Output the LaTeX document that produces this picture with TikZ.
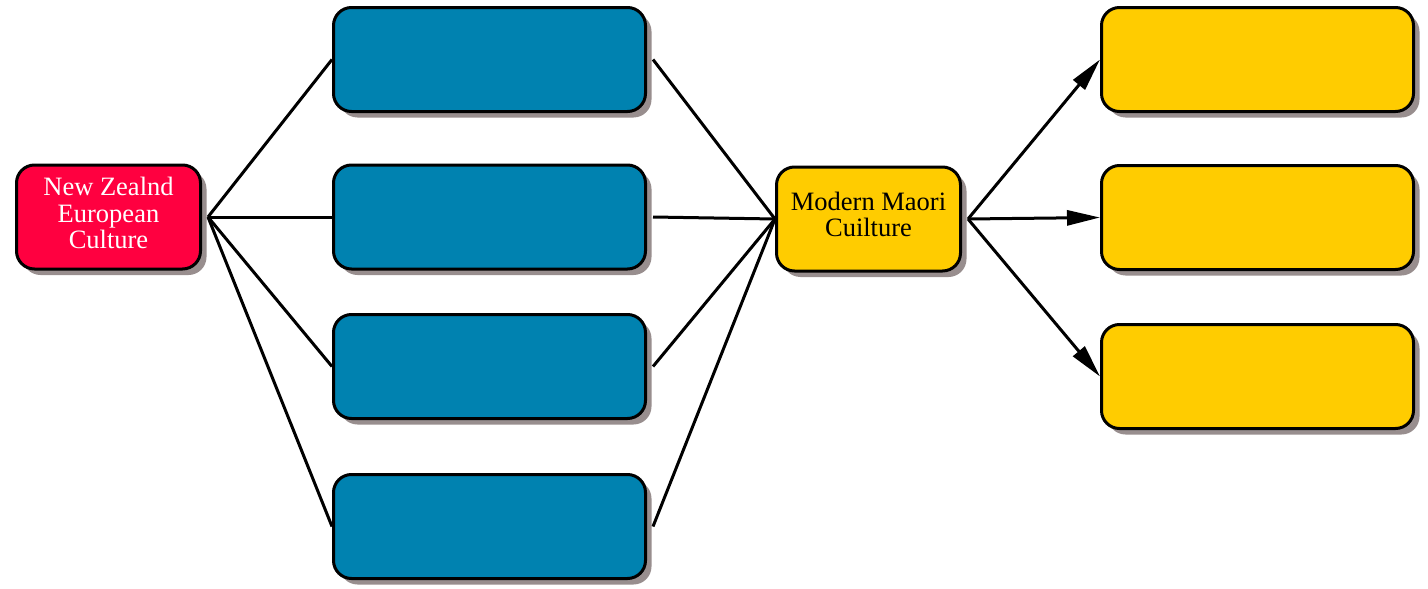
\documentclass[tikz,border=0pt]{standalone}
\usepackage{fontspec}
\setmainfont{Liberation Serif}
\usetikzlibrary{shadows,arrows.meta}
\definecolor{nzred}{RGB}{255,0,64}
\definecolor{nzblue}{RGB}{0,130,176}
\definecolor{nzyellow}{RGB}{255,204,0}
\definecolor{shadowgray}{RGB}{152,142,142}
\begin{document}
\begin{tikzpicture}[x=1pt,y=-1pt,
  boxbase/.style={draw=black, line width=3pt, rounded corners=18pt, inner sep=0pt,
    drop shadow={shadow xshift=6pt, shadow yshift=-6pt, fill=shadowgray, opacity=1}},
  widebox/.style={boxbase, minimum width=312pt, minimum height=104pt},
  smallbox/.style={boxbase, minimum width=184pt, minimum height=104pt},
  boxtext/.style={align=center, inner sep=0pt, font=\fontsize{26.5}{26.5}\selectfont},
  conn/.style={line width=3pt, black},
  arr/.style={conn, -{Triangle[length=33pt,width=15pt]}}]
\useasboundingbox (0,0) rectangle (1428,589);
\node[smallbox, fill=nzred] (nz) at (108.5,217) {};
\node[boxtext, text=white] (nzt) at ([yshift=4pt]nz.center) {New Zealnd\\European\\Culture};
\node[widebox, fill=nzblue] (b1) at (489.5,59.5) {};
\node[widebox, fill=nzblue] (b2) at (489.5,217) {};
\node[widebox, fill=nzblue] (b3) at (489.5,366.5) {};
\node[widebox, fill=nzblue] (b4) at (489.5,526.5) {};
\node[smallbox, fill=nzyellow] (mm) at (868.5,219) {};
\node[boxtext] (mmt) at ([yshift=4.5pt]mm.center) {Modern Maori\\Cuilture};
\node[widebox, fill=nzyellow] (y1) at (1257.5,59.5) {};
\node[widebox, fill=nzyellow] (y2) at (1257.5,217.5) {};
\node[widebox, fill=nzyellow] (y3) at (1257.5,376.5) {};
\foreach \b in {b1,b2,b3,b4}{
  \draw[conn] ([xshift=6pt]nz.east) -- (\b.west);
  \draw[conn] ([xshift=6pt]\b.east) -- (mm.west);
}
\foreach \y in {y1,y2,y3}{
  \draw[arr] ([xshift=6pt]mm.east) -- (\y.west);
}
\end{tikzpicture}
\end{document}
